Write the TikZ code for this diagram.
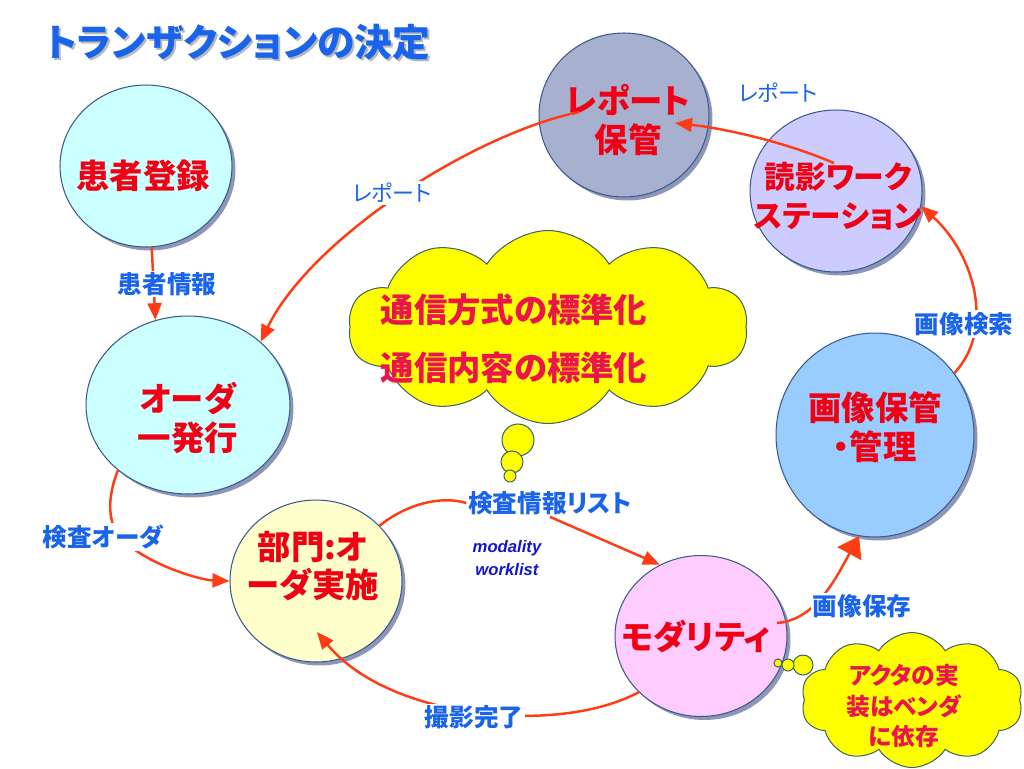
\documentclass[tikz,border=0pt]{standalone}
\usepackage{fontspec}
\setmainfont{Noto Sans CJK JP}[RawFeature=+palt]
\newfontfamily\latfont{Liberation Sans}
\usetikzlibrary{calc, arrows.meta, shapes.geometric, shapes.symbols, shadows}
\definecolor{arrred}{RGB}{255,60,20}
\definecolor{lblblue}{RGB}{25,100,235}
\definecolor{nodered}{RGB}{240,0,20}
\definecolor{stdred}{RGB}{235,20,75}
\definecolor{wlblue}{RGB}{20,20,200}
\definecolor{rimblue}{RGB}{60,90,140}
\definecolor{shadowblue}{RGB}{140,150,185}
\definecolor{cloudrim}{RGB}{70,100,100}
\definecolor{cloudyellow}{RGB}{255,255,0}
\definecolor{cyanfill}{RGB}{204,255,255}
\definecolor{repfill}{RGB}{168,176,208}
\definecolor{wsfill}{RGB}{204,204,255}
\definecolor{imgfill}{RGB}{153,204,255}
\definecolor{deptfill}{RGB}{255,255,204}
\definecolor{modfill}{RGB}{255,204,255}
\tikzset{
  station/.style={ellipse, draw=rimblue, line width=0.6pt, inner sep=0pt,
    drop shadow={shadow xshift=0.07cm, shadow yshift=-0.07cm, fill=shadowblue, opacity=1}},
  stationtxt/.style={text=nodered, font=\fontsize{19}{22}\selectfont\bfseries, align=center, inner sep=0pt},
  flowlbl/.style={text=lblblue, font=\fontsize{14}{16}\selectfont\bfseries, fill=white, inner sep=1pt},
  replbl/.style={text=lblblue, font=\fontsize{12.5}{14}\selectfont, fill=white, inner sep=1pt},
  conn/.style={draw=arrred, line width=1.4pt},
  arr/.style={conn, -{Triangle[length=3.4mm,width=2.8mm]}},
  thought/.style={cloud, cloud puff arc=115, draw=cloudrim, fill=cloudyellow, line width=0.6pt, inner sep=0pt},
  bubble/.style={circle, draw=cloudrim, fill=cloudyellow, line width=0.6pt, inner sep=0pt},
  headline/.style={anchor=west, inner sep=0pt, font=\fontsize{21.5}{24}\selectfont\bfseries}
}
\begin{document}
\begin{tikzpicture}[x=0.02cm,y=-0.02cm]
\useasboundingbox (0,0) rectangle (1024,768);
\node[headline, text=gray!55] (titleshadow) at (47,44) {トランザクションの決定};
\node[headline, text=lblblue] (title) at (45,42) {トランザクションの決定};

\node[station, fill=cyanfill, minimum width=3.44cm, minimum height=3.24cm] (reg) at (146,166) {};
\node[station, fill=cyanfill, minimum width=4.08cm, minimum height=3.56cm] (ord) at (188,405) {};
\node[station, fill=repfill, minimum width=3.40cm, minimum height=3.28cm] (rep) at (624,115) {};
\node[station, fill=wsfill, minimum width=3.44cm, minimum height=3.24cm] (ws) at (836,191) {};
\node[station, fill=imgfill, minimum width=3.96cm, minimum height=4.08cm] (img) at (875,435) {};
\node[station, fill=deptfill, minimum width=3.44cm, minimum height=3.24cm] (dept) at (316,581) {};
\node[station, fill=modfill, minimum width=3.44cm, minimum height=3.22cm] (mod) at (701,636) {};

\node[stationtxt] (regtxt) at (143,176) {患者登録};
\node[stationtxt] (ordtxt) at (188,418) {オーダ\\一発行};
\node[stationtxt] (reptxt) at (628,120) {レポート\\保管};
\node[stationtxt, font=\fontsize{17.5}{22}\selectfont\bfseries] (wstxt) at (838,196) {読影ワーク\\ステーション};
\node[stationtxt] (imgtxt) at (875,427) {画像保管\\・管理};
\node[stationtxt] (depttxt) at (313,566) {部門:オ\\ーダ実施};
\node[stationtxt] (modtxt) at (696,637) {モダリティ};

\node[thought, cloud puffs=10, minimum width=7.98cm, minimum height=3.86cm] (std) at (548,327) {};
\node[text=stdred, font=\fontsize{19}{33}\selectfont\bfseries, align=center] (stdtxt) at (514,339) {通信方式の標準化\\通信内容の標準化};
\foreach \cx/\cy/\r [count=\i] in {518/440/16, 512/462/11, 510/476/6}
  \node[bubble, minimum size=\r*0.04cm] (sb\i) at (\cx,\cy) {};

\node[thought, cloud puffs=10, minimum width=4.44cm, minimum height=2.7cm] (vend) at (912,700) {};
\node[text=stdred, font=\fontsize{13.5}{17.5}\selectfont\bfseries, align=center] (vendtxt) at (904,706) {アクタの実\\装はベンダ\\に依存};
\foreach \cx/\cy/\r [count=\i] in {803/665/10, 788/665/6, 778/663/4}
  \node[bubble, minimum size=\r*0.04cm] (vb\i) at (\cx,\cy) {};

\node[flowlbl] (lst) at (550,503) {検査情報リスト};
\node[text=wlblue, font=\latfont\fontsize{9.5}{13.5}\selectfont\bfseries\itshape, align=center] (mwl) at (507,558) {modality\\worklist};

\draw[arr] (reg.-86) -- (ord.111) node[flowlbl] at (167,284) {患者情報};
\draw[arr] ($(rep)+(-45,-3)$) .. controls (470,135) and (310,240) .. (ord.41) node[replbl] at (392,193) {レポート};
\draw[arr] ($(ws)+(-2,-28)$) .. controls (780,140) and (720,128) .. ($(rep)+(51,8)$);
\node[replbl] (replbl2) at (778,93) {レポート};
\draw[arr] (img.38) .. controls (995,330) and (975,255) .. (ws.-10) node[flowlbl] at (964,324) {画像検索};
\draw[conn, -{Triangle[length=4mm,width=5.4mm]}] ($(mod)+(76,-13)$) .. controls (815,620) and (835,580) .. (img.-99) node[flowlbl] at (862,606) {画像保存};
\draw[arr] (ord.-137) .. controls (108,495) and (105,525) .. (125,542) .. controls (150,565) and (200,580) .. (dept.180) node[flowlbl] at (103,537) {検査オーダ};
\draw[conn] (dept.41) .. controls (405,505) and (440,495) .. (lst.west);
\draw[arr] (lst.south) -- (mod.120);
\draw[arr] (mod.-138) .. controls (560,735) and (390,720) .. ($(dept)+(1,51)$) node[flowlbl] at (474,717) {撮影完了};
\end{tikzpicture}
\end{document}
